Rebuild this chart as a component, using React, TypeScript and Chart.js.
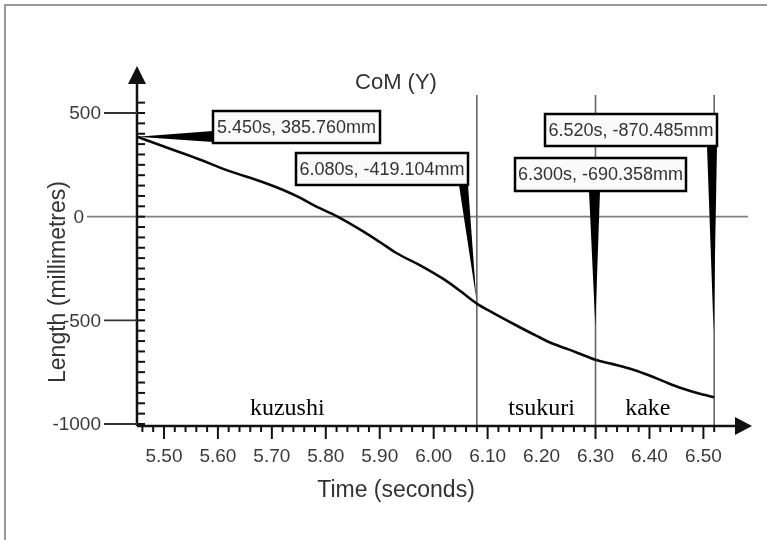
import React, { useEffect, useRef } from 'react';
import { Chart, registerables } from 'chart.js';

Chart.register(...registerables);

// ---- data ----
const TIME_S = [
  5.45, 5.5, 5.56, 5.62, 5.68, 5.72, 5.75, 5.78, 5.82, 5.87, 5.9, 5.93, 5.98, 6.02, 6.05,
  6.08, 6.11, 6.15, 6.19, 6.22, 6.25, 6.27, 6.3, 6.33, 6.37, 6.4, 6.43, 6.46, 6.49, 6.52,
];
const COM_Y_MM = [
  385.76, 338, 282, 221, 170, 130, 94, 52, 3, -72, -122, -174, -242, -304, -360,
  -419.104, -464, -520, -574, -612, -640, -660, -690.358, -710, -738, -766, -798, -828, -852, -870.485,
];
const X_TICKS = [5.5, 5.6, 5.7, 5.8, 5.9, 6.0, 6.1, 6.2, 6.3, 6.4, 6.5];
const X_TICK_LABELS = ['5.50', '5.60', '5.70', '5.80', '5.90', '6.00', '6.10', '6.20', '6.30', '6.40', '6.50'];
const Y_TICKS = [500, 0, -500, -1000];
const Y_TICK_LABELS = ['500', '0', '-500', '-1000'];
const PHASE_BOUNDARIES = [6.08, 6.3, 6.52];
const PHASE_NAMES = ['kuzushi', 'tsukuri', 'kake'];
const PHASE_LABEL_TIMES = [5.7285, 6.2, 6.397];
const MARKED_TIMES = [5.45, 6.08, 6.3, 6.52];
const MARKED_VALUES = [385.76, -419.104, -690.358, -870.485];

// ---- layout (pixels) ----
const CALLOUT_LAYOUT = [
  { x: 213, y: 111, w: 167, h: 32, side: 'left', a1: 131, a2: 142, reach: 1 },
  { x: 296, y: 153, w: 172, h: 32, side: 'bottom', a1: 459, a2: 468, reach: 0.96 },
  { x: 515, y: 158, w: 171, h: 33, side: 'bottom', a1: 589, a2: 600, reach: 0.8 },
  { x: 545, y: 114, w: 172, h: 32, side: 'bottom', a1: 707, a2: 717, reach: 0.74 },
];

const SANS = '"Liberation Sans", Arial, sans-serif';
const SERIF = '"Liberation Serif", "Times New Roman", serif';

const decorPlugin = {
  id: 'decor',
  beforeDatasetsDraw(chart: any) {
    const ctx = chart.ctx as CanvasRenderingContext2D;
    const xs = chart.scales.x;
    const ys = chart.scales.y;
    const area = chart.chartArea;
    ctx.save();
    // outer frame
    ctx.strokeStyle = '#777';
    ctx.lineWidth = 1.5;
    ctx.strokeRect(5, 5, 820, 600);
    // zero line
    const y0 = ys.getPixelForValue(0);
    ctx.strokeStyle = '#808080';
    ctx.lineWidth = 1.6;
    ctx.beginPath();
    ctx.moveTo(87, y0);
    ctx.lineTo(748, y0);
    ctx.stroke();
    // phase boundaries
    ctx.strokeStyle = '#666';
    ctx.lineWidth = 1.6;
    PHASE_BOUNDARIES.forEach((t) => {
      const px = xs.getPixelForValue(t);
      ctx.beginPath();
      ctx.moveTo(px, 95);
      ctx.lineTo(px, area.bottom);
      ctx.stroke();
    });
    ctx.restore();
  },
  afterDatasetsDraw(chart: any) {
    const ctx = chart.ctx as CanvasRenderingContext2D;
    const xs = chart.scales.x;
    const ys = chart.scales.y;
    const area = chart.chartArea;
    ctx.save();
    const ax = area.left;
    const ay = area.bottom;
    ctx.strokeStyle = '#111';
    ctx.fillStyle = '#111';
    ctx.lineWidth = 2.5;
    // axes lines
    ctx.beginPath();
    ctx.moveTo(ax, ay);
    ctx.lineTo(ax, area.top);
    ctx.moveTo(ax, ay);
    ctx.lineTo(area.right, ay);
    ctx.stroke();
    // arrows
    ctx.beginPath();
    ctx.moveTo(ax, area.top - 18);
    ctx.lineTo(ax - 9, area.top);
    ctx.lineTo(ax + 9, area.top);
    ctx.closePath();
    ctx.fill();
    ctx.beginPath();
    ctx.moveTo(area.right + 17, ay);
    ctx.lineTo(area.right, ay - 9);
    ctx.lineTo(area.right, ay + 9);
    ctx.closePath();
    ctx.fill();
    // x ticks
    ctx.lineWidth = 2;
    for (let k = 0; k <= 53; k++) {
      const t = 5.46 + k * 0.02;
      const px = xs.getPixelForValue(t);
      const isMajor = X_TICKS.some((m) => Math.abs(m - t) < 1e-6);
      ctx.beginPath();
      ctx.moveTo(px, ay);
      ctx.lineTo(px, ay + (isMajor ? 13 : 6));
      ctx.stroke();
    }
    // y minor ticks
    for (let v = -1000; v <= 550; v += 50) {
      const py = ys.getPixelForValue(v);
      ctx.beginPath();
      ctx.moveTo(ax, py);
      ctx.lineTo(ax + 8, py);
      ctx.stroke();
    }
    // y major ticks + labels
    ctx.font = `19px ${SANS}`;
    ctx.fillStyle = '#3a3a3a';
    ctx.textAlign = 'right';
    ctx.textBaseline = 'middle';
    Y_TICKS.forEach((v, i) => {
      const py = ys.getPixelForValue(v);
      const right = v === 0 ? 84 : 101;
      if (v !== 0) {
        ctx.strokeStyle = '#333';
        ctx.lineWidth = 1.8;
        ctx.beginPath();
        ctx.moveTo(right + 3, py);
        ctx.lineTo(ax, py);
        ctx.stroke();
      }
      ctx.fillText(Y_TICK_LABELS[i], right, py + 1);
    });
    // x labels
    ctx.textAlign = 'center';
    ctx.textBaseline = 'alphabetic';
    X_TICKS.forEach((t, i) => {
      ctx.fillText(X_TICK_LABELS[i], xs.getPixelForValue(t), 462);
    });
    // titles
    ctx.fillStyle = '#333';
    ctx.font = `22px ${SANS}`;
    ctx.fillText('CoM (Y)', 396, 89);
    ctx.font = `23px ${SANS}`;
    ctx.fillText('Time (seconds)', 396, 497);
    ctx.save();
    ctx.translate(65, 282);
    ctx.rotate(-Math.PI / 2);
    ctx.fillText('Length (millimetres)', 0, 0);
    ctx.restore();
    // phase names
    ctx.fillStyle = '#000';
    ctx.font = `24px ${SERIF}`;
    PHASE_NAMES.forEach((n, i) => {
      ctx.fillText(n, xs.getPixelForValue(PHASE_LABEL_TIMES[i]), 415);
    });
    // callouts
    MARKED_TIMES.forEach((t, i) => {
      const L = CALLOUT_LAYOUT[i];
      const px = xs.getPixelForValue(t);
      const py = ys.getPixelForValue(MARKED_VALUES[i]);
      ctx.fillStyle = '#000';
      ctx.beginPath();
      if (L.side === 'left') {
        ctx.moveTo(L.x, L.a1);
        ctx.lineTo(L.x, L.a2);
        ctx.lineTo(px, py);
      } else {
        const by = L.y + L.h;
        const mid = L.a1 + (L.a2 - L.a1) / 2;
        const tipX = mid + (px - mid) * L.reach;
        const tipY = by + (py - by) * L.reach;
        ctx.moveTo(L.a1, by);
        ctx.lineTo(L.a2, by);
        ctx.lineTo(tipX, tipY);
      }
      ctx.closePath();
      ctx.fill();
      ctx.fillStyle = '#fafafa';
      ctx.fillRect(L.x, L.y, L.w, L.h);
      ctx.strokeStyle = '#000';
      ctx.lineWidth = 2.5;
      ctx.strokeRect(L.x, L.y, L.w, L.h);
      ctx.fillStyle = '#333';
      ctx.font = `18px ${SANS}`;
      ctx.textAlign = 'center';
      ctx.textBaseline = 'middle';
      const label = `${t.toFixed(3)}s, ${MARKED_VALUES[i].toFixed(3)}mm`;
      ctx.fillText(label, L.x + L.w / 2, L.y + L.h / 2 + 1);
      ctx.textBaseline = 'alphabetic';
    });
    ctx.restore();
  },
};

export default function App() {
  const ref = useRef<HTMLCanvasElement | null>(null);
  useEffect(() => {
    document.body.style.margin = '0';
    const canvas = ref.current;
    if (!canvas) return;
    const chart = new Chart(canvas, {
      type: 'line',
      data: {
        datasets: [
          {
            data: TIME_S.map((t, i) => ({ x: t, y: COM_Y_MM[i] })),
            borderColor: '#0a0a0a',
            borderWidth: 2.6,
            pointRadius: 0,
            cubicInterpolationMode: 'monotone',
            borderJoinStyle: 'round',
            fill: false,
          },
        ],
      },
      options: {
        responsive: false,
        animation: false,
        devicePixelRatio: 1,
        layout: { padding: { left: 0, top: 84, right: 32, bottom: 0 } },
        plugins: { legend: { display: false }, tooltip: { enabled: false }, title: { display: false } },
        scales: {
          x: {
            type: 'linear',
            min: 5.45,
            max: 6.5586,
            ticks: { display: false },
            grid: { display: false, drawTicks: false },
            border: { display: false },
            afterFit: (s: any) => {
              s.height = 114;
            },
          },
          y: {
            type: 'linear',
            min: -1009.6,
            max: 639.9,
            ticks: { display: false },
            grid: { display: false, drawTicks: false },
            border: { display: false },
            afterFit: (s: any) => {
              s.width = 137;
            },
          },
        },
      },
      plugins: [decorPlugin],
    } as any);
    return () => chart.destroy();
  }, []);
  return (
    <canvas ref={ref} width={767} height={540} style={{ display: 'block', width: 767, height: 540 }} />
  );
}
